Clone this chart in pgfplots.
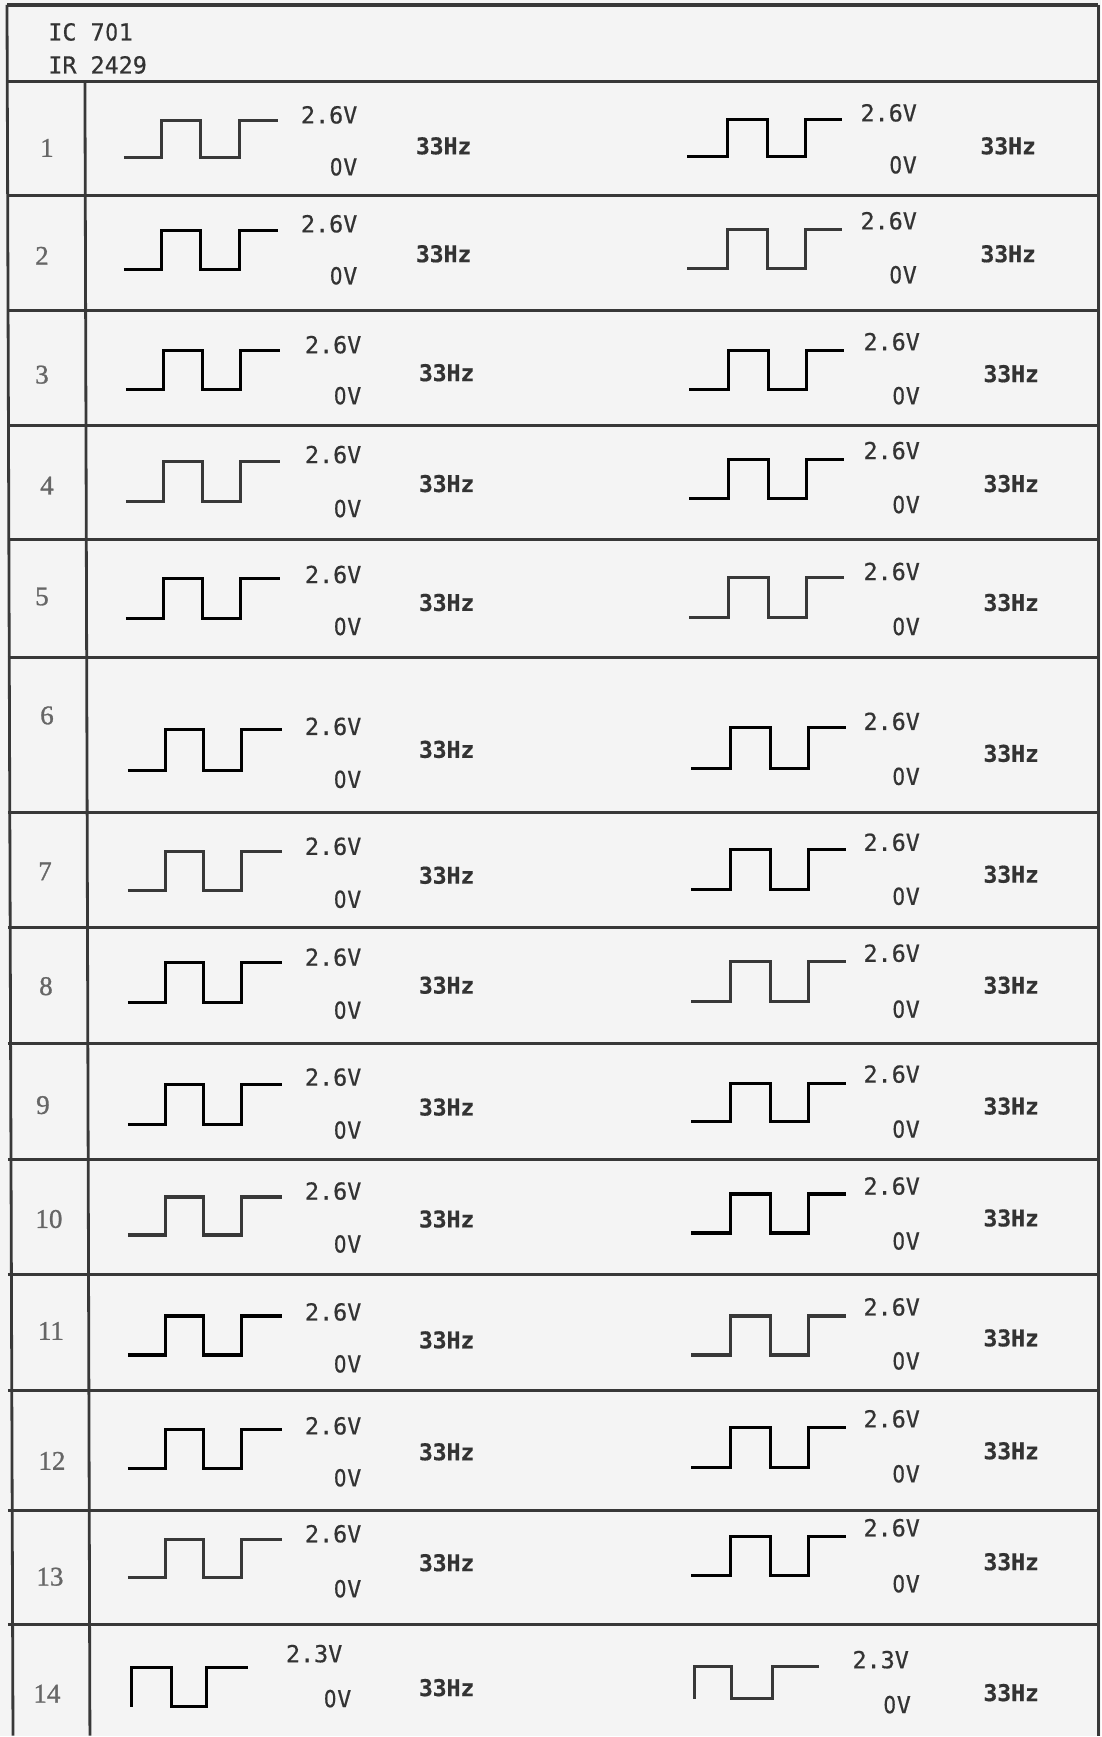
\documentclass[border=0pt]{standalone}
\usepackage{fontspec}
\usepackage{pgfplots}
\pgfplotsset{compat=1.18}
\newfontfamily\mono{DejaVu Sans Mono}[FakeBold=0.6]
\newfontfamily\zerof{DejaVu Sans}[FakeStretch=0.85,FakeBold=0.6]
\newfontfamily\numf{Liberation Serif}[FakeBold=1]
\definecolor{ink}{HTML}{383838}
\definecolor{txt}{HTML}{333333}
\definecolor{numgray}{HTML}{666666}
\definecolor{paper}{HTML}{F4F4F4}

% one data unit = one pixel of the scan (0.5pt), y counted from the top
\newcommand\lblfont{\mono\fontsize{11.7}{13}\selectfont}
\newcommand\Z{\makebox[0.602em]{\zerof 0}}
\newcommand\hi[3]{\node[anchor=east,inner sep=0pt,text=txt,font=\lblfont] at (axis cs:#1,#2) {#3};}
\newcommand\hz[2]{\node[inner sep=0pt,text=txt,font=\mono\bfseries\fontsize{11.5}{13}\selectfont] at (axis cs:#1,#2) {33Hz};}
\newcommand\rownum[3]{\node[inner sep=0pt,font=\numf\fontsize{13.5}{15}\selectfont,text=numgray] at (axis cs:#1,#2) {#3};}

\begin{document}
\begin{tikzpicture}
\begin{axis}[
    x=0.5pt, y=0.5pt, y dir=reverse,
    xmin=0, xmax=1102, ymin=0, ymax=1737,
    hide axis, scale only axis, clip=false,
    cycle list={{ink, solid, mark=none}},
    every axis plot/.append style={line width=1.6pt, line join=miter},
]
\fill[paper] (axis cs:0,0) rectangle (axis cs:1102,1737);

% table frame
\draw[ink, line width=2pt] (axis cs:7,5) -- (axis cs:1099,5);
\draw[ink, line width=1.4pt] (axis cs:7,5) -- (axis cs:13,1737);
\draw[ink, line width=1.4pt] (axis cs:1099,5) -- (axis cs:1099,1737);
\draw[ink, line width=1.4pt] (axis cs:85,82) -- (axis cs:90,1737);
\pgfplotsinvokeforeach{82,196,311,426,540,658,813,928,1044,1160,1276,1392,1512,1626}{
  \draw[ink, line width=1.5pt] (axis cs:8,#1) -- (axis cs:1099,#1);
}

% header
\node[anchor=west,inner sep=0pt,text=txt,font=\lblfont] at (axis cs:48,32) {IC 7\Z1};
\node[anchor=west,inner sep=0pt,text=txt,font=\lblfont] at (axis cs:48,65) {IR 2429};

% left waveforms
\addplot coordinates {(124,158) (162,158) (162,121) (201,121) (201,158) (240,158) (240,121) (278,121)};
\addplot coordinates {(124,270) (162,270) (162,231) (201,231) (201,270) (240,270) (240,231) (278,231)};
\addplot coordinates {(126,390) (164,390) (164,351) (203,351) (203,390) (241,390) (241,351) (280,351)};
\addplot coordinates {(126,502) (164,502) (164,462) (203,462) (203,502) (241,502) (241,462) (280,462)};
\addplot coordinates {(126,619) (164,619) (164,579) (203,579) (203,619) (241,619) (241,579) (280,579)};
\addplot coordinates {(128,771) (166,771) (166,730) (204,730) (204,771) (242,771) (242,730) (282,730)};
\addplot coordinates {(128,891) (166,891) (166,852) (204,852) (204,891) (242,891) (242,852) (282,852)};
\addplot coordinates {(128,1003) (166,1003) (166,963) (204,963) (204,1003) (242,1003) (242,963) (282,963)};
\addplot coordinates {(128,1125) (166,1125) (166,1085) (204,1085) (204,1125) (242,1125) (242,1085) (282,1085)};
\addplot coordinates {(128,1236) (166,1236) (166,1198) (204,1198) (204,1236) (242,1236) (242,1198) (282,1198)};
\addplot coordinates {(128,1356) (166,1356) (166,1317) (204,1317) (204,1356) (242,1356) (242,1317) (282,1317)};
\addplot coordinates {(128,1470) (166,1470) (166,1431) (204,1431) (204,1470) (242,1470) (242,1431) (282,1431)};
\addplot coordinates {(128,1579) (166,1579) (166,1541) (204,1541) (204,1579) (242,1579) (242,1541) (282,1541)};
\addplot coordinates {(132,1708) (132,1669) (172,1669) (172,1708) (207,1708) (207,1669) (248,1669)};

% right waveforms
\addplot coordinates {(688,157) (728,157) (728,120) (768,120) (768,157) (806,157) (806,120) (843,120)};
\addplot coordinates {(688,269) (728,269) (728,230) (768,230) (768,269) (806,269) (806,230) (843,230)};
\addplot coordinates {(690,390) (729,390) (729,351) (769,351) (769,390) (807,390) (807,351) (845,351)};
\addplot coordinates {(690,499) (729,499) (729,460) (769,460) (769,499) (807,499) (807,460) (845,460)};
\addplot coordinates {(690,618) (729,618) (729,578) (769,578) (769,618) (807,618) (807,578) (845,578)};
\addplot coordinates {(692,769) (731,769) (731,728) (771,728) (771,769) (809,769) (809,728) (847,728)};
\addplot coordinates {(692,890) (731,890) (731,850) (771,850) (771,890) (809,890) (809,850) (847,850)};
\addplot coordinates {(692,1002) (731,1002) (731,962) (771,962) (771,1002) (809,1002) (809,962) (847,962)};
\addplot coordinates {(692,1122) (731,1122) (731,1084) (771,1084) (771,1122) (809,1122) (809,1084) (847,1084)};
\addplot coordinates {(692,1234) (731,1234) (731,1195) (771,1195) (771,1234) (809,1234) (809,1195) (847,1195)};
\addplot coordinates {(692,1356) (731,1356) (731,1317) (771,1317) (771,1356) (809,1356) (809,1317) (847,1317)};
\addplot coordinates {(692,1469) (731,1469) (731,1429) (771,1429) (771,1469) (809,1469) (809,1429) (847,1429)};
\addplot coordinates {(692,1577) (731,1577) (731,1538) (771,1538) (771,1577) (809,1577) (809,1538) (847,1538)};
\addplot coordinates {(695,1700) (695,1668) (732,1668) (732,1700) (773,1700) (773,1668) (820,1668)};

% row numbers
\rownum{47}{148}{1}
\rownum{42}{256}{2}
\rownum{42}{375}{3}
\rownum{47}{486}{4}
\rownum{42}{597}{5}
\rownum{47}{716}{6}
\rownum{45}{872}{7}
\rownum{46}{987}{8}
\rownum{43}{1106}{9}
\rownum{49}{1220}{10}
\rownum{51}{1332}{11}
\rownum{52}{1462}{12}
\rownum{50}{1578}{13}
\rownum{47}{1695}{14}

% left levels
\hi{358}{115}{2.6V} \hi{358}{167}{\Z V} \hz{444}{146}
\hi{358}{224}{2.6V} \hi{358}{276}{\Z V} \hz{444}{254}
\hi{362}{345}{2.6V} \hi{362}{396}{\Z V} \hz{447}{373}
\hi{362}{455}{2.6V} \hi{362}{509}{\Z V} \hz{447}{484}
\hi{362}{575}{2.6V} \hi{362}{627}{\Z V} \hz{447}{603}
\hi{362}{727}{2.6V} \hi{362}{780}{\Z V} \hz{447}{750}
\hi{362}{847}{2.6V} \hi{362}{900}{\Z V} \hz{447}{876}
\hi{362}{958}{2.6V} \hi{362}{1011}{\Z V} \hz{447}{986}
\hi{362}{1078}{2.6V} \hi{362}{1131}{\Z V} \hz{447}{1108}
\hi{362}{1192}{2.6V} \hi{362}{1245}{\Z V} \hz{447}{1220}
\hi{362}{1313}{2.6V} \hi{362}{1365}{\Z V} \hz{447}{1341}
\hi{362}{1427}{2.6V} \hi{362}{1479}{\Z V} \hz{447}{1453}
\hi{362}{1535}{2.6V} \hi{362}{1590}{\Z V} \hz{447}{1564}
\hi{343}{1655}{2.3V} \hi{352}{1700}{\Z V} \hz{447}{1689}

% right levels
\hi{918}{113}{2.6V} \hi{918}{165}{\Z V} \hz{1009}{146}
\hi{918}{221}{2.6V} \hi{918}{275}{\Z V} \hz{1009}{254}
\hi{921}{342}{2.6V} \hi{921}{396}{\Z V} \hz{1012}{374}
\hi{921}{451}{2.6V} \hi{921}{505}{\Z V} \hz{1012}{484}
\hi{921}{572}{2.6V} \hi{921}{627}{\Z V} \hz{1012}{603}
\hi{921}{722}{2.6V} \hi{921}{777}{\Z V} \hz{1012}{754}
\hi{921}{843}{2.6V} \hi{921}{897}{\Z V} \hz{1012}{875}
\hi{921}{954}{2.6V} \hi{921}{1010}{\Z V} \hz{1012}{986}
\hi{921}{1075}{2.6V} \hi{921}{1130}{\Z V} \hz{1012}{1107}
\hi{921}{1187}{2.6V} \hi{921}{1242}{\Z V} \hz{1012}{1219}
\hi{921}{1308}{2.6V} \hi{921}{1362}{\Z V} \hz{1012}{1339}
\hi{921}{1420}{2.6V} \hi{921}{1475}{\Z V} \hz{1012}{1452}
\hi{921}{1529}{2.6V} \hi{921}{1585}{\Z V} \hz{1012}{1563}
\hi{910}{1661}{2.3V} \hi{912}{1706}{\Z V} \hz{1012}{1694}
\end{axis}
\end{tikzpicture}
\end{document}
